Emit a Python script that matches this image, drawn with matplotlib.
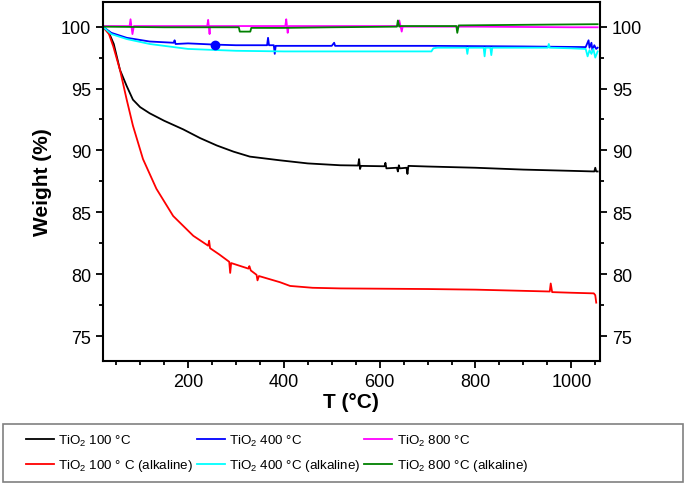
import numpy as np
import matplotlib
matplotlib.use("Agg")
import matplotlib.pyplot as plt
from matplotlib.ticker import MultipleLocator
from matplotlib.patches import Rectangle

plt.rcParams["font.family"] = ["Liberation Sans", "DejaVu Sans"]
plt.rcParams["mathtext.fontset"] = "custom"
plt.rcParams["mathtext.rm"] = "Liberation Sans"
plt.rcParams["mathtext.it"] = "Liberation Sans"
plt.rcParams["mathtext.bf"] = "Liberation Sans:bold"

# TiO2 100 °C
t_100 = [22, 35, 45, 58, 72, 85, 100, 120, 150, 190, 225, 260, 295, 329, 392, 450, 518, 555, 557, 559, 561,
         610, 612, 614, 636, 638, 640, 642, 656, 658, 660, 700, 800, 900, 1000, 1048, 1050, 1052, 1055]
w_100 = [100, 99.5, 98.6, 96.5, 95.2, 94.1, 93.5, 93.0, 92.4, 91.7, 91.0, 90.4, 89.9, 89.5, 89.2, 88.95, 88.8, 88.78, 89.3, 88.5, 88.75,
         88.72, 89.0, 88.55, 88.6, 88.3, 88.8, 88.55, 88.6, 88.1, 88.75, 88.7, 88.6, 88.45, 88.35, 88.3, 88.6, 88.3, 88.3]

# TiO2 100 ° C (alkaline)
t_100a = [22, 35, 44, 58, 72, 85, 106, 134, 169, 211, 242, 244, 246, 265, 286, 288, 290, 326, 328, 331, 343, 345, 348,
          370, 392, 413, 460, 518, 700, 800, 955, 957, 960, 1000, 1047, 1050, 1052]
w_100a = [100, 99.4, 98.4, 96.5, 94.1, 92.0, 89.3, 86.9, 84.7, 83.1, 82.3, 82.7, 82.1, 81.6, 81.0, 80.1, 80.9, 80.45, 80.65, 80.3, 79.95, 79.5, 79.85,
          79.6, 79.35, 79.05, 78.9, 78.85, 78.8, 78.75, 78.6, 79.25, 78.55, 78.5, 78.45, 78.3, 77.7]

# TiO2 400 °C
t_400 = [22, 40, 72, 120, 170, 172, 174, 200, 256, 300, 365, 367, 369, 379, 381, 383, 500, 505, 507, 700, 900,
         1030, 1036, 1038, 1042, 1044, 1048, 1052, 1055]
w_400 = [100, 99.5, 99.1, 98.8, 98.7, 98.9, 98.6, 98.65, 98.55, 98.5, 98.5, 99.1, 98.5, 98.5, 97.8, 98.45, 98.45, 98.7, 98.45, 98.45, 98.4,
         98.35, 98.9, 98.3, 98.7, 98.1, 98.5, 98.2, 98.3]

# TiO2 400 °C (alkaline)
t_400a = [22, 40, 72, 120, 200, 300, 400, 500, 600, 708, 712, 720, 781, 783, 785, 817, 819, 821, 831, 833, 835,
          951, 953, 955, 1000, 1030, 1034, 1038, 1042, 1046, 1050, 1055]
w_400a = [100, 99.4, 99.0, 98.6, 98.2, 98.05, 98.0, 98.0, 98.0, 98.0, 98.25, 98.3, 98.3, 97.8, 98.3, 98.3, 97.6, 98.3, 98.3, 97.7, 98.3,
          98.3, 98.6, 98.3, 98.25, 98.2, 97.6, 98.1, 97.8, 98.2, 97.5, 98.0]

# TiO2 800 °C
t_800 = [22, 78, 80, 84, 87, 240, 242, 245, 246, 403, 405, 408, 410, 639, 641, 646, 648, 800, 1000, 1055]
w_800 = [100.05, 100.05, 100.6, 99.4, 100.05, 100.05, 100.55, 99.4, 100.05, 100.05, 100.6, 99.5, 100.05, 100.05, 100.5, 99.6, 100.0, 100.0, 99.95, 99.95]

# TiO2 800 °C (alkaline)
t_800a = [22, 150, 306, 308, 330, 332, 400, 500, 636, 638, 641, 644, 760, 762, 765, 900, 1055]
w_800a = [100.0, 99.95, 99.95, 99.6, 99.6, 99.9, 99.9, 99.95, 100.0, 100.5, 100.0, 100.05, 100.05, 99.5, 100.1, 100.15, 100.2]

fig = plt.figure(figsize=(6.85, 4.85), dpi=100)
ax = fig.add_axes([0.150, 0.254, 0.726, 0.740])

lw = 1.3
ax.plot(t_100, w_100, color="black", lw=lw, label="TiO$_2$ 100 °C")
ax.plot(t_100a, w_100a, color="#ff0000", lw=lw, label="TiO$_2$ 100 ° C (alkaline)")
ax.plot(t_400, w_400, color="#0000ff", lw=lw, label="TiO$_2$ 400 °C")
ax.plot(t_400a, w_400a, color="#00ffff", lw=lw, label="TiO$_2$ 400 °C (alkaline)")
ax.plot(t_800, w_800, color="#ff00ff", lw=lw, label="TiO$_2$ 800 °C")
ax.plot(t_800a, w_800a, color="#008000", lw=lw, label="TiO$_2$ 800 °C (alkaline)")
ax.plot([256], [98.55], "o", color="#0000ff", ms=6)

ax.set_xlim(22, 1060)
ax.set_ylim(73, 102)
ax.xaxis.set_major_locator(MultipleLocator(200))
ax.xaxis.set_minor_locator(MultipleLocator(50))
ax.yaxis.set_major_locator(MultipleLocator(5))
ax.yaxis.set_minor_locator(MultipleLocator(2.5))
ax.yaxis.set_ticks_position("both")
ax.tick_params(axis="both", which="major", direction="out", length=5, width=1.3, labelsize=13)
ax.tick_params(axis="both", which="minor", direction="out", length=3, width=1.3)
ax.tick_params(axis="y", which="both", right=True, labelright=True)
ax.tick_params(axis="x", which="both", top=False)
for s in ax.spines.values():
    s.set_linewidth(1.5)

ax.set_xlabel("T (°C)", fontsize=15, fontweight="bold", labelpad=2)
ax.set_ylabel("Weight (%)", fontsize=15, fontweight="bold", labelpad=6)

# legend box spanning the full width, entries packed to the left
fig.patches.append(Rectangle((3 / 685, 2 / 485), 680 / 685, 58 / 485, transform=fig.transFigure,
                             facecolor="white", edgecolor="#808080", lw=1.2))
leg = fig.legend(loc="center left", bbox_to_anchor=(19 / 685, 1 - 454 / 485),
                 ncol=3, fontsize=9.6, frameon=False, handlelength=2.1,
                 handletextpad=0.35, columnspacing=0.25, borderpad=0, labelspacing=0.7)

fig.savefig("out.png", dpi=100)
